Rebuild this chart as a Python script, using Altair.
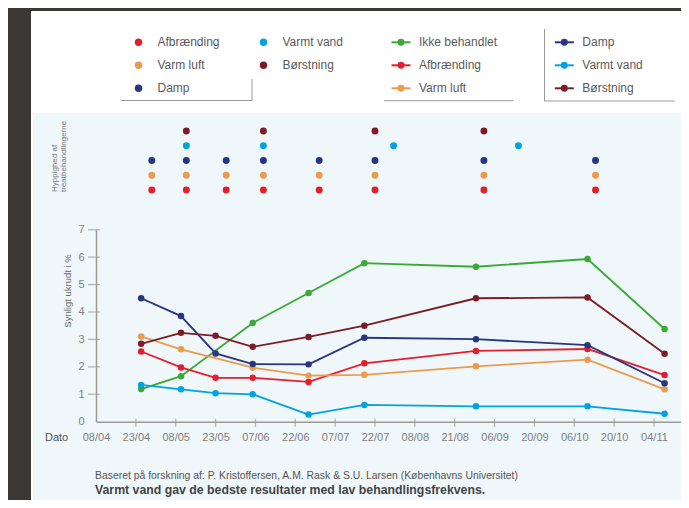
import json
import altair as alt
import pandas as pd

# ---------------- data ----------------
start_date = "2013-04-08"
measure_dates = ["2013-04-25", "2013-05-10", "2013-05-23", "2013-06-06", "2013-06-27",
                 "2013-07-18", "2013-08-29", "2013-10-10", "2013-11-08"]

series_names = ["Ikke behandlet", "Afbrænding", "Varm luft", "Damp", "Varmt vand", "Børstning"]
series_colors = ["#3aa935", "#e31f2e", "#eb9b4c", "#283583", "#00a3e0", "#7d1c26"]

ikke_behandlet = [1.19, 1.66, None, 3.60, 4.69, 5.78, 5.65, 5.93, 3.38]
afbraending = [2.56, 1.98, 1.60, 1.60, 1.45, 2.13, 2.58, 2.65, 1.70]
varm_luft = [3.11, 2.64, None, 1.97, 1.68, 1.71, 2.02, 2.26, 1.18]
damp = [4.50, 3.85, 2.49, 2.10, 2.09, 3.06, 3.01, 2.79, 1.40]
varmt_vand = [1.34, 1.18, 1.04, 1.00, 0.26, 0.61, 0.56, 0.56, 0.29]
boerstning = [2.84, 3.24, 3.13, 2.73, 3.09, 3.50, 4.50, 4.53, 2.48]
series_values = [ikke_behandlet, afbraending, varm_luft, damp, varmt_vand, boerstning]

treat_names = ["Afbrænding", "Varm luft", "Damp", "Varmt vand", "Børstning"]
treat_colors = ["#e31f2e", "#eb9b4c", "#283583", "#00a3e0", "#7d1c26"]
afbraending_dates = ["2013-04-29", "2013-05-12", "2013-05-27", "2013-06-10", "2013-07-01",
                     "2013-07-22", "2013-09-01", "2013-10-13"]
varm_luft_dates = ["2013-04-29", "2013-05-12", "2013-05-27", "2013-06-10", "2013-07-01",
                   "2013-07-22", "2013-09-01", "2013-10-13"]
damp_dates = ["2013-04-29", "2013-05-12", "2013-05-27", "2013-06-10", "2013-07-01",
              "2013-07-22", "2013-09-01", "2013-10-13"]
varmt_vand_dates = ["2013-05-12", "2013-06-10", "2013-07-29", "2013-09-14"]
boerstning_dates = ["2013-05-12", "2013-06-10", "2013-07-22", "2013-09-01"]
treat_dates = [afbraending_dates, varm_luft_dates, damp_dates, varmt_vand_dates, boerstning_dates]

tick_labels = ["08/04", "23/04", "08/05", "23/05", "07/06", "22/06", "07/07", "22/07",
               "08/08", "21/08", "06/09", "20/09", "06/10", "20/10", "04/11", "19/11"]
y_ticks = [1, 2, 3, 4, 5, 6, 7]

t0 = pd.Timestamp(start_date)


def day(d):
    return (pd.Timestamp(d) - t0).days


rows = []
for name, vals in zip(series_names, series_values):
    for d, v in zip(measure_dates, vals):
        if v is not None:
            rows.append({"serie": name, "dag": day(d), "værdi": v})
df_lines = pd.DataFrame(rows)

rows = []
for name, ds in zip(treat_names, treat_dates):
    for d in ds:
        rows.append({"behandling": name, "dag": day(d)})
df_treat = pd.DataFrame(rows)

df_legA = pd.DataFrame({"label": treat_names,
                        "col": [i // 3 for i in range(len(treat_names))],
                        "row": [i % 3 for i in range(len(treat_names))]})
df_legB = pd.DataFrame({"label": series_names,
                        "col": [i // 3 for i in range(len(series_names))],
                        "row": [i % 3 for i in range(len(series_names))]})

n_ticks = len(tick_labels)
df_xt = pd.DataFrame({"dag": [15 * k for k in range(1, n_ticks)]})
df_yt = pd.DataFrame({"v": y_ticks})
one = pd.DataFrame({"a": [0]})

# ---------------- styling ----------------
FONT = "Liberation Sans"
W, H = 673, 492
DARK = "#3b3734"
AX = "#9a9a9a"
x_end = 15 * (n_ticks - 1)
xs = alt.Scale(domain=[0, x_end], range=[88, 88 + x_end * 2.657], nice=False, zero=False)
ys = alt.Scale(domain=[0, 7], range=[413.7, 221.7], nice=False, zero=False)
col_lines = alt.Scale(domain=series_names, range=series_colors)
col_treat = alt.Scale(domain=treat_names, range=treat_colors)

label_expr = json.dumps(tick_labels) + "[round(datum.value/15)]"

# page frame (dark stone border, white card, light-blue plot area)
bg_dark_left = alt.Chart(one).mark_rect(color=DARK).encode(
    x=alt.value(-8), x2=alt.value(23), y=alt.value(-8), y2=alt.value(500))
bg_dark_top = alt.Chart(one).mark_rect(color=DARK).encode(
    x=alt.value(-8), x2=alt.value(681), y=alt.value(-8), y2=alt.value(3))
bg_white = alt.Chart(one).mark_rect(color="white").encode(
    x=alt.value(23), x2=alt.value(681), y=alt.value(3), y2=alt.value(500))
bg_blue = alt.Chart(one).mark_rect(color="#eff7fa").encode(
    x=alt.value(25), x2=alt.value(681), y=alt.value(105), y2=alt.value(500))

sep_color = "#9a9a9a"
seps = [
    alt.Chart(one).mark_rule(color=sep_color, strokeWidth=1).encode(
        x=alt.value(113), x2=alt.value(244), y=alt.value(92.5)),
    alt.Chart(one).mark_rule(color=sep_color, strokeWidth=1).encode(
        x=alt.value(244), y=alt.value(71), y2=alt.value(92.5)),
    alt.Chart(one).mark_rule(color=sep_color, strokeWidth=1).encode(
        x=alt.value(376), x2=alt.value(505.5), y=alt.value(92.7)),
    alt.Chart(one).mark_rule(color=sep_color, strokeWidth=1).encode(
        x=alt.value(536.5), y=alt.value(21), y2=alt.value(93)),
    alt.Chart(one).mark_rule(color=sep_color, strokeWidth=1).encode(
        x=alt.value(536.5), x2=alt.value(666.5), y=alt.value(93)),
]

legA_x = alt.Scale(domain=[0, 1], range=[130.5, 255.5])
legB_x = alt.Scale(domain=[0, 1], range=[393, 556.3])
leg_y = alt.Scale(domain=[0, 2], range=[34.3, 80.3])

legA_dots = alt.Chart(df_legA).mark_circle(size=55, opacity=1).encode(
    x=alt.X("col:Q", scale=legA_x, axis=None),
    y=alt.Y("row:Q", scale=leg_y, axis=None),
    color=alt.Color("label:N", scale=col_treat, legend=None))
legA_text = alt.Chart(df_legA).mark_text(align="left", baseline="middle", dx=19,
                                         font=FONT, fontSize=12, color="#5a5a5a").encode(
    x=alt.X("col:Q", scale=legA_x, axis=None),
    y=alt.Y("row:Q", scale=leg_y, axis=None),
    text="label:N")

legB_line = alt.Chart(df_legB).mark_point(shape="M-1,0L1,0", filled=False, strokeWidth=2,
                                          size=361, opacity=1).encode(
    x=alt.X("col:Q", scale=legB_x, axis=None),
    y=alt.Y("row:Q", scale=leg_y, axis=None),
    color=alt.Color("label:N", scale=col_lines, legend=None))
legB_dot = alt.Chart(df_legB).mark_circle(size=48, opacity=1).encode(
    x=alt.X("col:Q", scale=legB_x, axis=None),
    y=alt.Y("row:Q", scale=leg_y, axis=None),
    color=alt.Color("label:N", scale=col_lines, legend=None))
legB_text = alt.Chart(df_legB).mark_text(align="left", baseline="middle", dx=18,
                                         font=FONT, fontSize=12, color="#5a5a5a").encode(
    x=alt.X("col:Q", scale=legB_x, axis=None),
    y=alt.Y("row:Q", scale=leg_y, axis=None),
    text="label:N")

treat = alt.Chart(df_treat).mark_circle(size=48, opacity=1).encode(
    x=alt.X("dag:Q", scale=xs, axis=None),
    y=alt.Y("behandling:N", scale=alt.Scale(type="point", domain=treat_names,
                                             range=[182, 123], padding=0), axis=None),
    color=alt.Color("behandling:N", scale=col_treat, legend=None))

lines = alt.Chart(df_lines).mark_line(strokeWidth=1.8).encode(
    x=alt.X("dag:Q", scale=xs, axis=alt.Axis(
        orient="bottom", offset=-(H - 413.7), values=[15 * k for k in range(n_ticks)],
        labelExpr=label_expr, ticks=False, tickSize=0, grid=False,
        domainColor=AX, domainWidth=1.5, labelColor="#808080", labelFont=FONT,
        labelFontSize=11, labelPadding=10, labelFlush=False, labelOverlap=False,
        title=None, zindex=1)),
    y=alt.Y("værdi:Q", scale=ys, axis=alt.Axis(
        orient="left", offset=-88, values=list(range(8)), ticks=False, tickSize=0,
        grid=False, domainColor=AX, domainWidth=1.5, labelColor="#808080",
        labelFont=FONT, labelFontSize=11, labelPadding=12, title=None, zindex=1)),
    color=alt.Color("serie:N", scale=col_lines, legend=None),
    detail="serie:N")
points = alt.Chart(df_lines).mark_circle(size=42, opacity=1).encode(
    x=alt.X("dag:Q", scale=xs, axis=None),
    y=alt.Y("værdi:Q", scale=ys, axis=None),
    color=alt.Color("serie:N", scale=col_lines, legend=None))

xticks = alt.Chart(df_xt).mark_tick(orient="vertical", size=8, thickness=1.3, color=AX).encode(
    x=alt.X("dag:Q", scale=xs, axis=None), y=alt.value(414.8))
yticks = alt.Chart(df_yt).mark_tick(orient="horizontal", size=12, thickness=1.3, color=AX).encode(
    y=alt.Y("v:Q", scale=ys, axis=None), x=alt.value(86))

txt_y = alt.Chart(one).mark_text(text="Synligt ukrudt i %", angle=270, align="center",
                                 baseline="middle", font=FONT, fontSize=9.5,
                                 color="#6a6a6a").encode(x=alt.value(60.3), y=alt.value(283))
txt_h1 = alt.Chart(one).mark_text(text="Hyppighed af", angle=270, align="left",
                                  baseline="middle", font=FONT, fontSize=8,
                                  color="#7a7a7a").encode(x=alt.value(47), y=alt.value(184))
txt_h2 = alt.Chart(one).mark_text(text="treatbehandlingerne", angle=270, align="left",
                                  baseline="middle", font=FONT, fontSize=8,
                                  color="#7a7a7a").encode(x=alt.value(56), y=alt.value(184))
cover = alt.Chart(one).mark_rect(color="white").encode(
    x=alt.value(35), x2=alt.value(75), y=alt.value(3), y2=alt.value(105))
txt_dato = alt.Chart(one).mark_text(text="Dato", align="left", baseline="middle", font=FONT,
                                    fontSize=11, color="#555555").encode(
    x=alt.value(37), y=alt.value(430))
txt_src = alt.Chart(one).mark_text(
    text="Baseret på forskning af: P. Kristoffersen, A.M. Rask & S.U. Larsen (Københavns Universitet)",
    align="left", baseline="middle", font=FONT, fontSize=10.4, color="#555555").encode(
    x=alt.value(87), y=alt.value(467.5))
txt_note = alt.Chart(one).mark_text(
    text="Varmt vand gav de bedste resultater med lav behandlingsfrekvens.",
    align="left", baseline="middle", font=FONT, fontSize=12.3, fontWeight="bold",
    color="#444444").encode(x=alt.value(87), y=alt.value(482))

chart = alt.layer(
    bg_dark_left, bg_dark_top, bg_white, bg_blue, *seps,
    legA_dots, legA_text, legB_line, legB_dot, legB_text,
    treat, lines, points, xticks, yticks,
    txt_y, txt_h1, txt_h2, cover, txt_dato, txt_src, txt_note,
).resolve_scale(x="independent", y="independent", color="independent").properties(
    width=W, height=H, background=DARK, padding=0,
    autosize=alt.AutoSizeParams(type="none"),
).configure_view(stroke=None)

chart.save("out.html", embed_options={"renderer": "svg", "actions": False})
